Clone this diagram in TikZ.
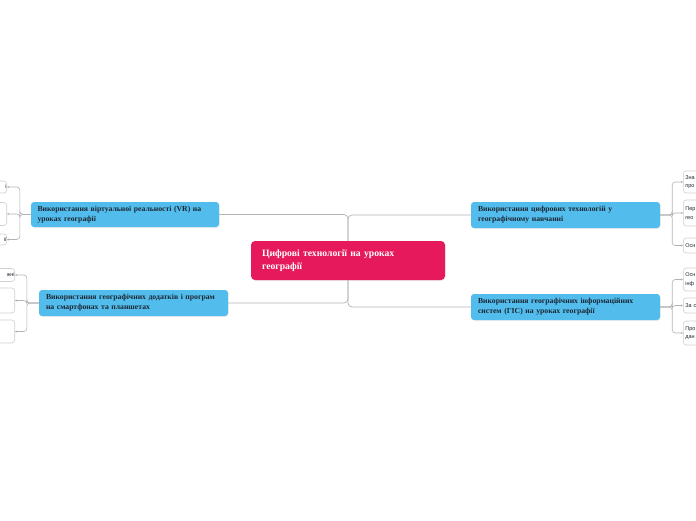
\documentclass[tikz,border=0pt]{standalone}
\usepackage{fontspec}
\setmainfont{Liberation Serif}
\setsansfont{Liberation Sans}
\usepackage{tikz}
\usetikzlibrary{arrows.meta,positioning,shadows,calc}
\definecolor{rootpink}{HTML}{E6195C}
\definecolor{branchblue}{HTML}{52BDEC}
\definecolor{linkgray}{HTML}{B3B3B3}
\definecolor{leafgray}{HTML}{CFCFCF}
\definecolor{inkdark}{HTML}{1C2633}

\begin{document}
\begin{tikzpicture}[x=1pt,y=-1pt,
    root/.style={rectangle,rounded corners=4pt,fill=rootpink,text=white,
      font=\fontsize{9.7}{12.8}\selectfont\bfseries,align=left,
      minimum width=194pt,minimum height=39pt,text width=172pt,inner sep=0pt,
      drop shadow={opacity=0.15,shadow xshift=0.6pt,shadow yshift=-0.8pt}},
    branch/.style={rectangle,rounded corners=3pt,fill=branchblue,text=inkdark,
      font=\fontsize{7.7}{10}\selectfont\bfseries,align=left,
      minimum width=189pt,minimum height=26pt,text width=175pt,inner sep=0pt,
      drop shadow={opacity=0.15,shadow xshift=0.6pt,shadow yshift=-0.8pt}},
    leaf/.style={rectangle,rounded corners=3pt,draw=leafgray,fill=white,
      line width=0.6pt,text=inkdark,font=\sffamily\fontsize{5.5}{8.5}\selectfont,
      text width=70pt,inner sep=0pt},
    leafl/.style={leaf,anchor=east,align=right},
    leafr/.style={leaf,anchor=west,align=left},
    link/.style={draw=linkgray,line width=0.7pt,rounded corners=4pt},
    twig/.style={draw=linkgray,line width=0.6pt,rounded corners=3pt,
      -{Stealth[length=2pt,width=2pt]}}]
  \useasboundingbox (0,0) rectangle (696,520);
  \clip (0,0) rectangle (696,520);

  % Central topic
  \node[root] (centre) at (348,260.5) {Цифрові технології на уроках\\ географії};

  % Main branches
  \node[branch,minimum width=188pt,minimum height=25pt] (vr) at (125,214.5)
    {Використання віртуальної реальності (VR) на\\ уроках географії};
  \node[branch] (apps) at (133.5,303)
    {Використання географічних додатків і програм\\ на смартфонах та планшетах};
  \node[branch] (digital) at (565.5,215)
    {Використання цифрових технологій у\\ географічному навчанні};
  \node[branch] (gis) at (565.5,307)
    {Використання географічних інформаційних\\ систем (ГІС) на уроках географії};

  \draw[link] (centre.north) |- (vr.east);
  \draw[link] (centre.north) |- (digital.west);
  \draw[link] (centre.south) |- (apps.east);
  \draw[link] (centre.south) |- (gis.west);

  % Leaves of the VR branch
  \node[leafl,minimum height=12pt] (vr1) at (7,187) {і\hspace{1pt}};
  \node[leafl,minimum height=23pt] (vr2) at (7,214) {};
  \node[leafl,minimum height=11pt] (vr3) at (7,239.5) {ії\hspace{1pt}};
  \foreach \n in {vr1,vr2,vr3}
    \draw[twig] (vr.west) -- ++(-11,0) |- (\n.east);

  % Leaves of the apps branch
  \node[leafl,minimum height=13pt] (apps1) at (15,275) {жні\hspace{1pt}};
  \node[leafl,minimum height=25pt] (apps2) at (15,300.5) {};
  \node[leafl,minimum height=23pt] (apps3) at (15,331.5) {};
  \foreach \n in {apps1,apps2,apps3}
    \draw[twig] (apps.west) -- ++(-12,0) |- (\n.east);

  % Leaves of the digital branch
  \node[leafr,minimum height=22pt] (dig1) at (683,182) {\hspace{2pt}Зна\\\hspace{2pt}про};
  \node[leafr,minimum height=26pt] (dig2) at (683,213) {\hspace{2pt}Пер\\\hspace{2pt}гео};
  \node[leafr,minimum height=15pt] (dig3) at (683,245.5) {\hspace{2pt}Осн};
  \foreach \n in {dig1,dig2,dig3}
    \draw[twig] (digital.east) -- ++(12,0) |- (\n.west);

  % Leaves of the GIS branch
  \node[leafr,minimum height=23pt] (gis1) at (683,279.5) {\hspace{2pt}Осн\\\hspace{2pt}інф};
  \node[leafr,minimum height=15pt] (gis2) at (683,305.5) {\hspace{2pt}За с};
  \node[leafr,minimum height=24pt] (gis3) at (683,333) {\hspace{2pt}Про\\\hspace{2pt}дан};
  \foreach \n in {gis1,gis2,gis3}
    \draw[twig] (gis.east) -- ++(12,0) |- (\n.west);
\end{tikzpicture}
\end{document}
